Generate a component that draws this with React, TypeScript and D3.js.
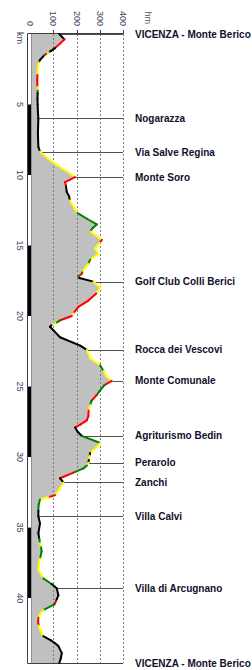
import React, { useEffect, useRef } from "react";
import * as d3 from "d3";

// elevation profile: km, metres, and the gradient class
// of the stretch that ends at that point (k flat, y easy, g medium, r steep)
const KM = [
  0, 0.38, 0.7, 1.0, 1.2, 1.3, 1.4, 1.5, 1.6, 1.8, 2.0, 2.5, 2.9, 3.3, 3.75, 4.0, 4.2, 4.6,
  5.0, 5.5, 6.0, 6.5, 7.0, 7.5, 8.0, 8.35, 8.8, 9.3, 9.7, 10.15, 10.35, 10.5, 10.8, 11.2,
  11.5, 11.8, 12.3, 12.7, 13.1, 13.5, 13.75, 14.0, 14.3, 14.6, 14.8, 15.2, 15.6, 16.0, 16.3,
  16.6, 16.9, 17.0, 17.2, 17.3, 17.56, 18.0, 18.4, 18.9, 19.35, 19.8, 20.0, 20.3, 20.5,
  20.65, 20.76, 21.0, 21.5, 22.1, 22.4, 22.6, 23.0, 23.5, 23.9, 24.3, 24.6, 24.9, 25.3,
  25.6, 26.0, 26.3, 26.7, 27.1, 27.4, 27.7, 27.9, 28.2, 28.5, 29.0, 29.4, 29.7, 29.9, 30.2,
  30.4, 30.6, 30.8, 31.1, 31.5, 31.8, 32.3, 32.7, 32.85, 33.0, 33.4, 33.8, 34.2, 34.7, 35.4,
  35.8, 36.1, 36.4, 36.7, 37.2, 37.6, 38.0, 38.6, 39.0, 39.3, 39.8, 40.2, 40.45, 40.85,
  41.1, 41.4, 41.7, 41.95, 42.3, 42.7, 43.0, 43.2, 43.4, 43.9, 44.3, 44.6,
];
const ELEV = [
  126, 148, 128, 108, 90, 80, 70, 62, 56, 45, 37, 33, 32, 31, 32, 33, 33, 32,
  33, 34, 36, 35, 34, 35, 36, 43, 75, 115, 155, 194, 170, 151, 155, 158,
  168, 172, 190, 205, 245, 287, 270, 259, 285, 309, 300, 280, 294, 259, 250,
  237, 225, 223, 208, 212, 273, 302, 285, 251, 208, 187, 180, 130, 110,
  92, 86, 100, 129, 216, 244, 250, 259, 302, 316, 330, 352, 320, 300,
  287, 265, 259, 252, 251, 244, 216, 194, 205, 223, 302, 280, 259, 256, 253,
  251, 245, 230, 187, 129, 144, 125, 108, 80, 43, 37, 36, 36, 43, 36,
  40, 43, 48, 50, 43, 38, 36, 57, 93, 115, 122, 112, 105, 57,
  45, 36, 35, 38, 45, 57, 90, 108, 122, 137, 132, 126,
];
const GRADE = [
  "k", "k", "r", "r", "k", "k", "y", "r", "g", "k", "k", "y", "y", "r", "r", "y", "g", "k",
  "k", "k", "k", "k", "k", "k", "k", "k", "y", "y", "y", "y", "r", "r", "r", "k",
  "k", "k", "y", "y", "g", "g", "g", "g", "y", "y", "r", "y", "y", "y", "g",
  "y", "y", "g", "r", "g", "k", "y", "y", "r", "r", "r", "y", "r", "g",
  "y", "k", "k", "k", "k", "k", "y", "y", "y", "g", "y", "y", "r", "g",
  "g", "r", "g", "y", "r", "r", "r", "r", "k", "k", "g", "y", "y", "k", "y",
  "k", "y", "g", "g", "r", "k", "y", "y", "r", "y", "g", "g", "k", "k", "k",
  "k", "g", "y", "g", "g", "y", "y", "y", "g", "k", "k", "k", "r", "g",
  "y", "y", "r", "r", "y", "y", "k", "k", "k", "k", "k", "k",
];

const PLACES = [
  "VICENZA - Monte Berico", "Nogarazza", "Via Salve Regina", "Monte Soro",
  "Golf Club Colli Berici", "Rocca dei Vescovi", "Monte Comunale", "Agriturismo Bedin",
  "Perarolo", "Zanchi", "Villa Calvi", "Villa di Arcugnano", "VICENZA - Monte Berico",
];
const PLACE_KM = [0, 5.96, 8.4, 10.17, 17.56, 22.4, 24.6, 28.5, 30.4, 31.8, 34.2, 39.3, 44.6];

const ELEV_TICKS = [0, 100, 200, 300, 400];
const KM_TICKS = [5, 10, 15, 20, 25, 30, 35, 40];
const TOTAL_KM = 44.6;

const GRADE_COLORS: Record<string, string> = {
  k: "#000000",
  y: "#ffff00",
  g: "#008000",
  r: "#ff0000",
};

export default function App() {
  const ref = useRef<SVGSVGElement>(null);

  useEffect(() => {
    const svg = d3.select(ref.current);
    svg.selectAll("*").remove();

    const x = d3.scaleLinear().domain([0, 400]).range([30, 123]);
    const y = d3.scaleLinear().domain([0, TOTAL_KM]).range([34, 663]);
    const pts = KM.map((k, i) => ({ km: k, elev: ELEV[i] }));
    const elevAt = d3.scaleLinear().domain(KM).range(ELEV);

    const font = "'Liberation Sans', Arial, sans-serif";
    const tickColor = "#3c3c64";

    // gray area under the profile
    svg.append("path")
      .datum(pts)
      .attr("fill", "#c0c0c0")
      .attr("d", d3.area<any>()
        .y((d) => y(d.km))
        .x0(x(0))
        .x1((d) => x(d.elev)));

    // dotted grid
    svg.selectAll(".grid")
      .data(ELEV_TICKS.slice(1))
      .enter().append("line")
      .attr("x1", (d) => Math.round(x(d)) + 0.5)
      .attr("x2", (d) => Math.round(x(d)) + 0.5)
      .attr("y1", y(0))
      .attr("y2", y(TOTAL_KM))
      .attr("stroke", "#808080")
      .attr("stroke-dasharray", "2,2");

    // top ticks
    svg.selectAll(".tick")
      .data(ELEV_TICKS.slice(1))
      .enter().append("line")
      .attr("x1", (d) => Math.round(x(d)) + 0.5)
      .attr("x2", (d) => Math.round(x(d)) + 0.5)
      .attr("y1", 30)
      .attr("y2", 34)
      .attr("stroke", "#404040");

    // leader lines to the place names
    svg.selectAll(".leader")
      .data(PLACE_KM)
      .enter().append("line")
      .attr("x1", (d) => x(elevAt(d)) + 1)
      .attr("x2", 123)
      .attr("y1", (d) => Math.round(y(d)) + 0.5)
      .attr("y2", (d) => Math.round(y(d)) + 0.5)
      .attr("stroke", "#505050");

    // frame
    svg.append("path")
      .attr("d", `M123,33.5H27.5V663.5H123`)
      .attr("fill", "none")
      .attr("stroke", "#404040");

    // km bar
    const blocks = d3.range(0, Math.ceil(TOTAL_KM / 5));
    svg.selectAll(".kmbar")
      .data(blocks)
      .enter().append("rect")
      .attr("x", 28)
      .attr("width", 3.5)
      .attr("y", (d) => y(d * 5))
      .attr("height", (d) => y(Math.min((d + 1) * 5, TOTAL_KM)) - y(d * 5))
      .attr("fill", (d) => (d % 2 ? "#000" : "#fff"));
    svg.append("line")
      .attr("x1", 31.5).attr("x2", 31.5)
      .attr("y1", y(0)).attr("y2", y(TOTAL_KM))
      .attr("stroke", "#909090");

    // profile coloured by gradient
    svg.selectAll(".seg")
      .data(pts.slice(1).map((p, i) => ({ a: pts[i], b: p, g: GRADE[i + 1] })))
      .enter().append("line")
      .attr("x1", (d) => x(d.a.elev))
      .attr("y1", (d) => y(d.a.km))
      .attr("x2", (d) => x(d.b.elev))
      .attr("y2", (d) => y(d.b.km))
      .attr("stroke", (d) => GRADE_COLORS[d.g])
      .attr("stroke-width", 2)
      .attr("stroke-linecap", "round");

    // elevation tick labels (rotated)
    svg.selectAll(".xlab")
      .data(ELEV_TICKS)
      .enter().append("text")
      .attr("transform", (d) => `translate(${x(d)},26) rotate(90)`)
      .attr("text-anchor", "end")
      .attr("dominant-baseline", "central")
      .attr("font-family", font)
      .attr("font-size", 9)
      .attr("fill", tickColor)
      .text((d) => d);

    svg.append("text")
      .attr("transform", `translate(148,24) rotate(90)`)
      .attr("text-anchor", "end")
      .attr("dominant-baseline", "central")
      .attr("font-family", font)
      .attr("font-size", 9)
      .attr("fill", "#5a4a5a")
      .text("hm");

    // km labels
    svg.selectAll(".ylab")
      .data(KM_TICKS)
      .enter().append("text")
      .attr("transform", (d) => `translate(20,${y(d)}) rotate(90)`)
      .attr("text-anchor", "middle")
      .attr("dominant-baseline", "central")
      .attr("font-family", font)
      .attr("font-size", 9)
      .attr("fill", tickColor)
      .text((d) => d);

    svg.append("text")
      .attr("transform", `translate(20,32) rotate(90)`)
      .attr("text-anchor", "start")
      .attr("dominant-baseline", "central")
      .attr("font-family", font)
      .attr("font-size", 9)
      .attr("fill", tickColor)
      .text("km");

    // place names
    svg.selectAll(".place")
      .data(PLACES)
      .enter().append("text")
      .attr("x", 135)
      .attr("y", (_, i) => y(PLACE_KM[i]))
      .attr("dominant-baseline", "central")
      .attr("font-family", font)
      .attr("font-size", 10)
      .attr("font-weight", "bold")
      .attr("fill", "#10102a")
      .text((d) => d);
  }, []);

  return (
    <svg
      ref={ref}
      width={252}
      height={670}
      style={{ position: "absolute", left: 0, top: 0, background: "#fff" }}
    />
  );
}
